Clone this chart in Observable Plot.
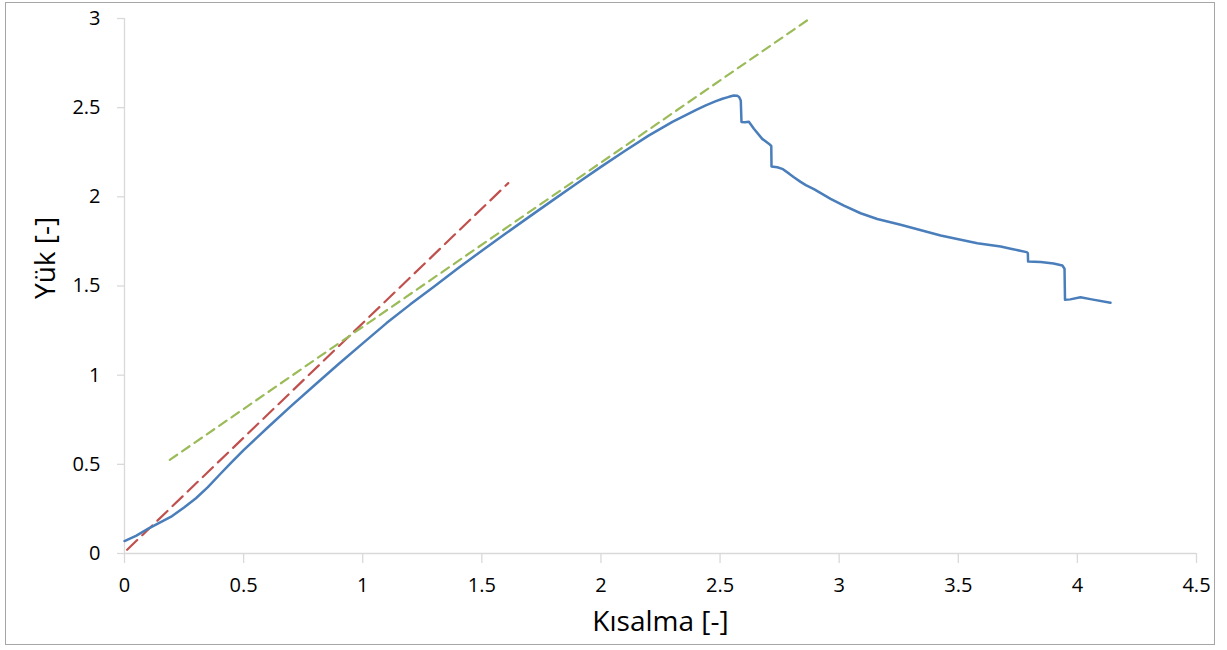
<!DOCTYPE html>
<html>
<head>
<meta charset="utf-8">
<script src="https://cdn.jsdelivr.net/npm/d3@7"></script>
<script src="https://cdn.jsdelivr.net/npm/@observablehq/plot@0.6"></script>
<style>
  html, body { margin: 0; padding: 0; background: #fff; }
  #wrap { position: relative; width: 1227px; height: 650px; overflow: hidden; }
  #border { position: absolute; left: 5px; top: 2px; width: 1210px; height: 643px; box-sizing: border-box; border: 1.5px solid #a6a6a6; pointer-events: none; }
  #chart { position: absolute; left: 0; top: 0; }
</style>
</head>
<body>
<div id="wrap"><div id="chart"></div><div id="border"></div></div>
<script>
// Blue measured curve: Kısalma (x) vs Yük (y)
const kisalma = [0, 0.05, 0.1, 0.15, 0.2, 0.25, 0.3, 0.35, 0.4, 0.45, 0.5, 0.6, 0.7, 0.8, 0.9, 1.0, 1.1, 1.2, 1.3, 1.4, 1.5, 1.6, 1.7, 1.8, 1.9, 2.0, 2.1, 2.2, 2.3, 2.4, 2.44, 2.48, 2.51, 2.53, 2.545, 2.558, 2.572, 2.580, 2.587, 2.590, 2.605, 2.621, 2.642, 2.677, 2.709, 2.715, 2.716, 2.740, 2.761, 2.790, 2.810, 2.838, 2.86, 2.894, 2.93, 2.964, 3.02, 3.09, 3.16, 3.258, 3.426, 3.58, 3.678, 3.72, 3.787, 3.792, 3.793, 3.846, 3.90, 3.937, 3.946, 3.948, 3.97, 4.013, 4.06, 4.139];
const yuk = [0.07, 0.10, 0.14, 0.175, 0.21, 0.258, 0.31, 0.372, 0.443, 0.513, 0.58, 0.705, 0.828, 0.946, 1.064, 1.178, 1.292, 1.397, 1.497, 1.599, 1.698, 1.794, 1.889, 1.983, 2.076, 2.168, 2.257, 2.343, 2.42, 2.488, 2.513, 2.535, 2.55, 2.558, 2.564, 2.568, 2.567, 2.56, 2.54, 2.42, 2.418, 2.421, 2.382, 2.325, 2.293, 2.285, 2.17, 2.166, 2.157, 2.13, 2.11, 2.084, 2.066, 2.043, 2.015, 1.989, 1.951, 1.908, 1.876, 1.843, 1.783, 1.74, 1.722, 1.709, 1.690, 1.684, 1.637, 1.634, 1.626, 1.615, 1.597, 1.423, 1.425, 1.437, 1.425, 1.406];

// Red dashed tangent (initial stiffness)
const redX = [0.011, 1.611];
const redY = [0.021, 2.077];
// Green dashed tangent
const greenX = [0.19, 2.875];
const greenY = [0.525, 2.998];

const xTicks = [0, 0.5, 1, 1.5, 2, 2.5, 3, 3.5, 4, 4.5];
const yTicks = [0, 0.5, 1, 1.5, 2, 2.5, 3];
const xTitle = ["Kısalma [-]"];
const yTitle = ["Yük [-]"];

const curve = kisalma.map((x, i) => ({x, y: yuk[i]}));
const red = redX.map((x, i) => ({x, y: redY[i]}));
const green = greenX.map((x, i) => ({x, y: greenY[i]}));

const axisGray = "#d9d9d9";
const fmt = d => String(d);

const chart = Plot.plot({
  width: 1227,
  height: 650,
  marginLeft: 124,
  marginRight: 31,
  marginTop: 18,
  marginBottom: 97,
  x: {domain: [0, 4.5]},
  y: {domain: [0, 3]},
  style: {fontFamily: "'Open Sans', sans-serif", fontSize: "20px", color: "#000", background: "transparent"},
  marks: [
    Plot.ruleY([0], {stroke: axisGray, strokeWidth: 1.3}),
    Plot.ruleX([0], {stroke: axisGray, strokeWidth: 1.3}),
    Plot.axisX(xTicks, {tickSize: 10, tickPadding: 14, stroke: axisGray, strokeWidth: 1.3, fill: "#000", tickFormat: fmt, label: null, fontSize: 20}),
    Plot.axisY(yTicks, {tickSize: 7, tickPadding: 17, stroke: axisGray, strokeWidth: 1.3, fill: "#000", tickFormat: fmt, label: null, fontSize: 20}),
    Plot.line(red, {x: "x", y: "y", stroke: "#c0504d", strokeWidth: 2.2, strokeDasharray: "14,7"}),
    Plot.line(green, {x: "x", y: "y", stroke: "#9bbb59", strokeWidth: 2.2, strokeDasharray: "9,6"}),
    Plot.line(curve, {x: "x", y: "y", stroke: "#4a7ebb", strokeWidth: 2.5, strokeLinejoin: "round"}),
    Plot.text(xTitle, {text: d => d, frameAnchor: "bottom", dy: 69, lineAnchor: "middle", fontSize: 28, fill: "#000"}),
    Plot.text(yTitle, {text: d => d, frameAnchor: "left", rotate: -90, dx: -78, dy: 13, lineAnchor: "middle", fontSize: 28, fill: "#000"})
  ]
});
document.getElementById("chart").appendChild(chart);
</script>
</body>
</html>
